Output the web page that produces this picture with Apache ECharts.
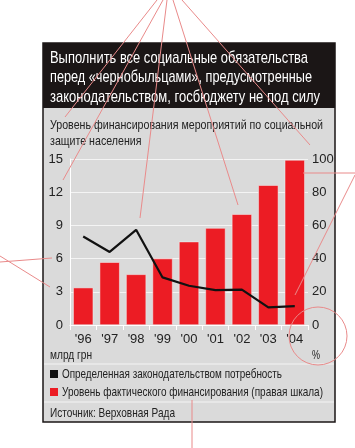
<!DOCTYPE html>
<html><head><meta charset="utf-8">
<script src="https://cdn.jsdelivr.net/npm/echarts@6/dist/echarts.min.js"></script>
<style>html,body{margin:0;padding:0;background:#fff}#c{width:355px;height:448px}</style>
</head><body><div id="c"></div>
<script>
var categories = ["'96","'97","'98","'99","'00","'01","'02","'03","'04"];
var needValues = [8.0, 6.6, 8.6, 4.3, 3.55, 3.15, 3.2, 1.6, 1.7];      // млрд грн (left)
var fundingValues = [22.5, 37.8, 30.5, 40, 50.2, 58.4, 66.7, 84.2, 99.4]; // % (right)
var leftTicks = {min: 0, max: 15, interval: 3};
var rightTicks = {min: 0, max: 100, interval: 20};
var titleLines = ["Выполнить все социальные обязательства", "перед «чернобыльцами», предусмотренные", "законодательством, госбюджету не под силу"];
var subtitleLines = ["Уровень финансирования мероприятий по социальной", "защите населения"];
var seriesNames = ["Определенная законодательством потребность", "Уровень фактического финансирования (правая шкала)"];
var sourceText = "Источник: Верховная Рада";
var leftUnit = "млрд грн";
var rightUnit = "%";

var FONT = "'Liberation Sans', Arial, sans-serif";
var cv = document.createElement('canvas').getContext('2d');
function measure(t, size){cv.font = size+'px '+FONT; return cv.measureText(t).width;}
function stext(t, x, y, size, color, targetW){
  var w = measure(t, size);
  return {type:'text', x:x, y:y, scaleX: targetW ? targetW / w : 1, silent:true,
    style:{text:t, fill:color, font:size+'px '+FONT, textVerticalAlign:'middle', textAlign:'left'}};
}

var chart = echarts.init(document.getElementById('c'));
var mark = '#e98a8a';
function ln(x1,y1,x2,y2){return {type:'line',z:100,silent:true,shape:{x1:x1,y1:y1,x2:x2,y2:y2},style:{stroke:mark,lineWidth:1}};}
var graphics = [
  {type:'rect', z:-10, shape:{x:43,y:43,width:292,height:379}, style:{fill:'#dadada', stroke:'#1b1616', lineWidth:1.5}},
  {type:'rect', z:-9, shape:{x:43,y:43,width:292,height:65}, style:{fill:'#1b1616'}},
  {type:'line', z:-8, shape:{x1:44,y1:364,x2:334,y2:364}, style:{stroke:'#f4f4f4', lineWidth:1}},
  {type:'line', z:-8, shape:{x1:44,y1:402,x2:334,y2:402}, style:{stroke:'#f4f4f4', lineWidth:1}},
  stext(sourceText, 50, 413, 13, '#222', 125),
  stext(leftUnit, 50, 355, 13, '#222', 42),
  stext(rightUnit, 312, 355, 13, '#222', 8),
  // legend
  {type:'rect', shape:{x:50,y:370,width:8,height:8}, style:{fill:'#111'}},
  {type:'rect', shape:{x:50,y:388,width:8,height:8}, style:{fill:'#ec1c24'}},
  stext(seriesNames[0], 62, 374, 13, '#222', 220),
  stext(seriesNames[1], 62, 392, 13, '#222', 261),
  // editorial markup lines
  ln(157,0,65,117), ln(163,0,63,180), ln(167,0,140,218), ln(173,0,238,205), ln(182,0,310,145),
  ln(303,173,355,173), ln(355,175,295,295), ln(0,262,52,258), ln(0,256,50,287), ln(192,400,192,448),
  {type:'circle', z:100, silent:true, shape:{cx:318,cy:336,r:29}, style:{fill:'none', stroke:mark, lineWidth:1}}
];
var titleW = [258, 262, 270];
titleLines.forEach(function(t,i){graphics.push(stext(t, 50, 58+i*19.7, 17, '#fff', titleW[i]));});
var subW = [273, 0];
subtitleLines.forEach(function(t,i){
  var g = stext(t, 50, 125+i*16.5, 13.5, '#222', 0);
  g.scaleX = 273 / measure(subtitleLines[0], 13.5);
  graphics.push(g);
});

chart.setOption({
  animation:false,
  grid:{left:70, right:47, top:159, bottom:123, containLabel:false},
  legend:{show:false, data:seriesNames},
  xAxis:{type:'category', data:categories,
    axisLine:{lineStyle:{color:'#fff', width:1}},
    axisTick:{show:true, length:5, lineStyle:{color:'#fff'}},
    axisLabel:{fontFamily:FONT, fontSize:13, color:'#222', margin:8},
    splitLine:{show:false}},
  yAxis:[
    {type:'value', min:leftTicks.min, max:leftTicks.max, interval:leftTicks.interval, position:'left',
      axisLine:{show:true, lineStyle:{color:'#fff'}}, axisTick:{show:false},
      axisLabel:{fontFamily:FONT, fontSize:13, color:'#222', margin:7},
      splitLine:{show:true, lineStyle:{color:'#f4f4f4', width:1}}},
    {type:'value', min:rightTicks.min, max:rightTicks.max, interval:rightTicks.interval, position:'right',
      axisLine:{show:false}, axisTick:{show:false},
      axisLabel:{fontFamily:FONT, fontSize:13, color:'#222', margin:4},
      splitLine:{show:false}}
  ],
  series:[
    {name:seriesNames[1], type:'bar', yAxisIndex:1, data:fundingValues, barWidth:20,
      itemStyle:{color:'#ec1c24', borderColor:'#f3f3f3', borderWidth:0.5}},
    {name:seriesNames[0], type:'line', yAxisIndex:0, data:needValues, symbol:'none',
      lineStyle:{color:'#111', width:2.2}, itemStyle:{color:'#111'}, z:5}
  ],
  graphic:graphics
});
</script></body></html>
